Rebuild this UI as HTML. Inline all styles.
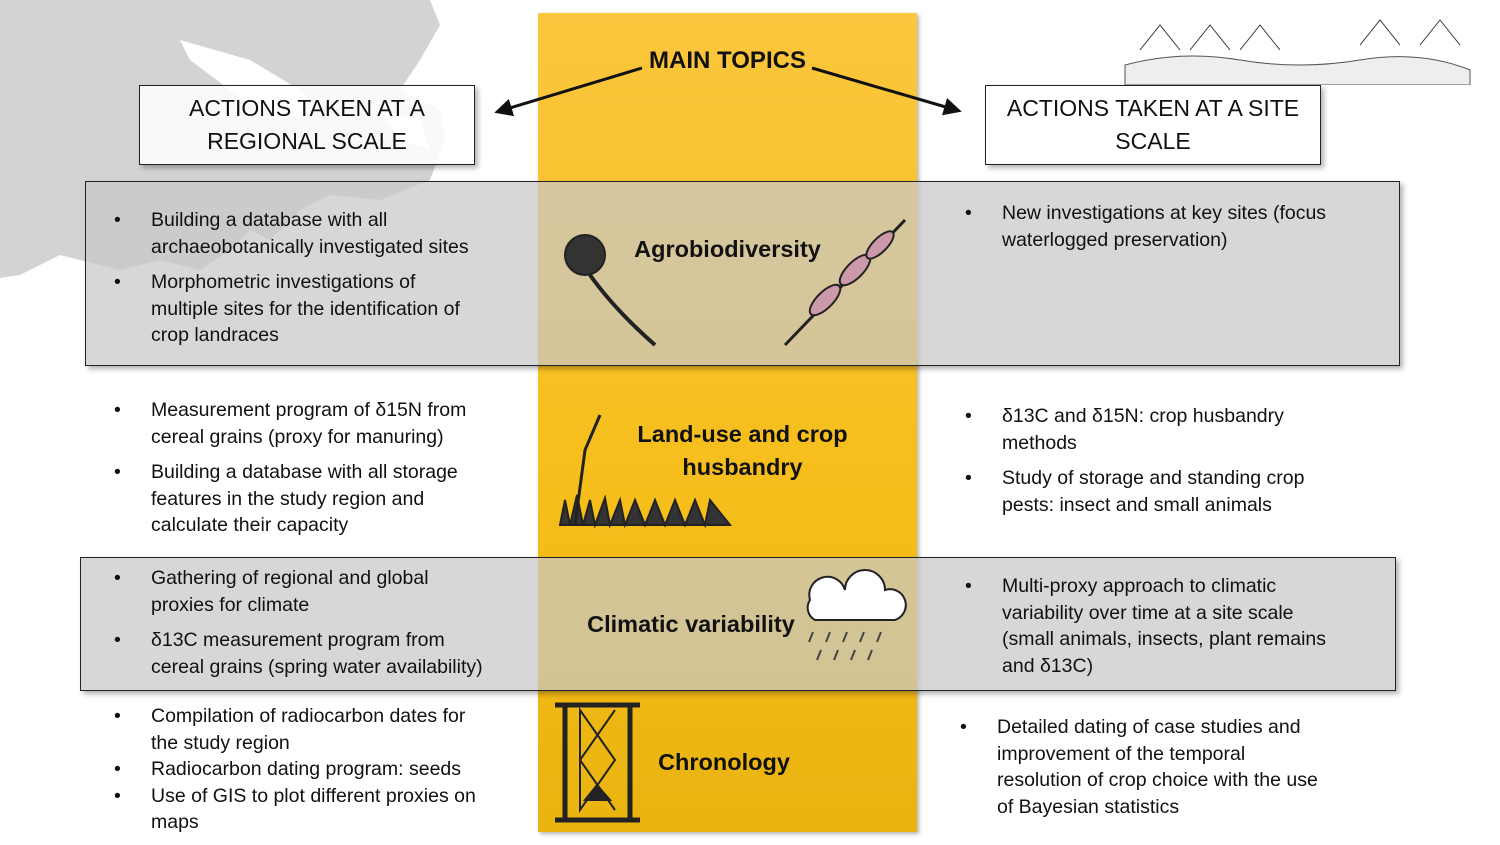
<!DOCTYPE html>
<html><head><meta charset="utf-8"><style>
body{margin:0;width:1500px;height:844px;position:relative;overflow:hidden;background:#fff;font-family:"Liberation Sans",sans-serif;color:#111}
.a{position:absolute}
.col{left:538px;top:13px;width:379px;height:819px;background:linear-gradient(#fcc63e,#f5be1a 60%,#e9b310);box-shadow:2px 2px 4px rgba(0,0,0,.3)}
.gbox{background:rgba(200,200,200,.72);border:1.5px solid #222;box-shadow:3px 3px 5px rgba(0,0,0,.3)}
.hbox{background:rgba(255,255,255,.85);border:1.5px solid #222;font-size:23px;text-align:center;line-height:33px;box-shadow:3px 3px 5px rgba(0,0,0,.3);display:flex;align-items:center;justify-content:center}
ul{margin:0;padding:0;list-style:none;font-size:19.5px;line-height:26.5px;white-space:nowrap}
li{position:relative;padding-left:37px;margin-bottom:9px}
li:before{content:"•";position:absolute;left:0}
.t{font-weight:bold;font-size:23.5px;text-align:center;line-height:33px}
</style></head><body>
<svg class="a" style="left:0;top:0" width="540" height="290">
<path d="M0 0 H430 L440 25 L420 60 L400 90 L440 110 L445 140 L430 180 L380 200 L330 195 L300 210 L270 240 L250 230 L230 250 L200 270 L160 260 L120 270 L60 255 L20 275 L0 278 Z" fill="#d3d3d3"/>
<path d="M180 40 L250 60 L300 90 L320 110 L280 120 L230 90 L190 60 Z" fill="#fff"/>
<path d="M380 110 L420 120 L430 150 L400 140 Z" fill="#fff"/>
</svg>
<div class="a col"></div>
<svg class="a" style="left:1120px;top:10px" width="360" height="75">
<path d="M5 55 Q60 40 120 50 T240 50 T350 60 L350 75 L5 75 Z" fill="#eee" stroke="#555"/>
<g stroke="#333" fill="none"><path d="M20 40 L40 15 L60 40 M70 40 L90 15 L110 40 M120 40 L140 15 L160 40 M240 35 L260 10 L280 35 M300 35 L320 10 L340 35"/></g>
</svg>
<div class="a t" style="left:600px;top:44px;width:255px;font-size:24px">MAIN TOPICS</div>
<svg class="a" style="left:0;top:0" width="1500" height="844">
<defs><marker id="m" markerWidth="6" markerHeight="6" refX="4" refY="3" orient="auto"><path d="M0 0 L6 3 L0 6 Z" fill="#111"/></marker></defs>
<line x1="642" y1="68" x2="500" y2="111" stroke="#111" stroke-width="3" marker-end="url(#m)"/>
<line x1="812" y1="68" x2="956" y2="110" stroke="#111" stroke-width="3" marker-end="url(#m)"/>
</svg>
<div class="a hbox" style="left:139px;top:85px;width:334px;height:78px">ACTIONS TAKEN AT A<br>REGIONAL SCALE</div>
<div class="a hbox" style="left:985px;top:85px;width:334px;height:78px">ACTIONS TAKEN AT A SITE<br>SCALE</div>
<div class="a gbox" style="left:85px;top:181px;width:1313px;height:183px"></div>
<div class="a gbox" style="left:80px;top:557px;width:1314px;height:132px"></div>

<ul class="a" style="left:114px;top:207px"><li>Building a database with all<br>archaeobotanically investigated sites</li><li>Morphometric investigations of<br>multiple sites for the identification of<br>crop landraces</li></ul>
<ul class="a" style="left:965px;top:200px"><li>New investigations at key sites (focus<br>waterlogged preservation)</li></ul>
<div class="a t" style="left:620px;top:233px;width:215px">Agrobiodiversity</div>

<ul class="a" style="left:114px;top:397px"><li>Measurement program of δ15N from<br>cereal grains (proxy for manuring)</li><li>Building a database with all storage<br>features in the study region and<br>calculate their capacity</li></ul>
<ul class="a" style="left:965px;top:403px"><li>δ13C and δ15N: crop husbandry<br>methods</li><li>Study of storage and standing crop<br>pests: insect and small animals</li></ul>
<div class="a t" style="left:620px;top:418px;width:245px">Land-use and crop<br>husbandry</div>

<ul class="a" style="left:114px;top:565px"><li>Gathering of regional and global<br>proxies for climate</li><li>δ13C measurement program from<br>cereal grains (spring water availability)</li></ul>
<ul class="a" style="left:965px;top:573px"><li>Multi-proxy approach to climatic<br>variability over time at a site scale<br>(small animals, insects, plant remains<br>and δ13C)</li></ul>
<div class="a t" style="left:578px;top:608px;width:226px">Climatic variability</div>

<ul class="a" style="left:114px;top:703px"><li style="margin-bottom:0">Compilation of radiocarbon dates for<br>the study region</li><li style="margin-bottom:0">Radiocarbon dating program: seeds</li><li>Use of GIS to plot different proxies on<br>maps</li></ul>
<ul class="a" style="left:960px;top:714px"><li>Detailed dating of case studies and<br>improvement of the temporal<br>resolution of crop choice with the use<br>of Bayesian statistics</li></ul>
<div class="a t" style="left:648px;top:746px;width:152px">Chronology</div>

<svg class="a" style="left:555px;top:200px" width="360" height="630" fill="none" stroke="#222" stroke-width="2">
<circle cx="30" cy="55" r="20" fill="#333"/><path d="M35 75 Q60 110 100 145" stroke-width="4"/>
<path d="M230 145 L350 20" stroke-width="3"/><g fill="#c9a"><ellipse cx="270" cy="100" rx="20" ry="8" transform="rotate(-45 270 100)"/><ellipse cx="300" cy="70" rx="20" ry="8" transform="rotate(-45 300 70)"/><ellipse cx="325" cy="45" rx="18" ry="7" transform="rotate(-45 325 45)"/></g>
<path d="M5 325 L10 300 L15 325 L22 295 L28 325 L35 300 L40 325 L50 298 L55 325 L65 300 L70 325 L80 300 L90 325 L100 300 L110 325 L120 300 L130 325 L140 300 L150 325 L155 300 L175 325 Z" fill="#333"/>
<path d="M20 325 L30 250 L45 215" stroke-width="3"/>
<path d="M255 400 a18 18 0 0 1 35 -10 a20 20 0 0 1 40 0 a15 15 0 0 1 10 30 H260 a14 14 0 0 1 -5 -20 Z" fill="#fff"/>
<g stroke="#444" stroke-width="2"><path d="M258 432 l-4 10 M275 432 l-4 10 M292 432 l-4 10 M309 432 l-4 10 M326 432 l-4 10 M266 450 l-4 10 M283 450 l-4 10 M300 450 l-4 10 M317 450 l-4 10"/></g>
<path d="M0 505 H85 M0 620 H85 M10 505 V620 M75 505 V620" stroke-width="5"/><path d="M25 510 L60 560 L25 610 Z M60 510 L25 560 L60 610" stroke-width="2"/><path d="M30 600 L55 600 L42 585 Z" fill="#222"/>
</svg>
</body></html>
